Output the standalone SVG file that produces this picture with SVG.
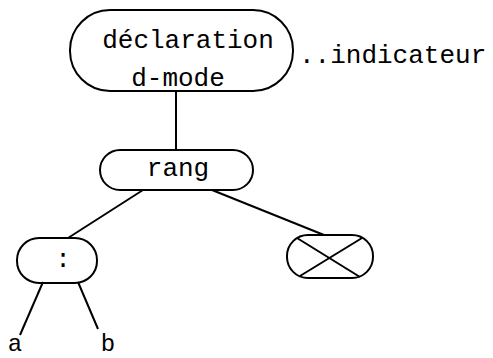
<svg xmlns="http://www.w3.org/2000/svg" width="493" height="358" viewBox="0 0 493 358">
<style>
.n{fill:none;stroke:#000;stroke-width:2}
.c{stroke:#000;stroke-width:2;fill:none}
text{font-family:"Liberation Mono","DejaVu Sans Mono",monospace;font-size:26px;fill:#000}
.s{font-size:24px}
</style>
<rect width="493" height="358" fill="#fff"/>
<g id="connectors">
<line class="c" x1="176" y1="91" x2="176" y2="150"/>
<line class="c" x1="143" y1="190" x2="68" y2="238"/>
<line class="c" x1="212" y1="190" x2="324" y2="235"/>
<line class="c" x1="43" y1="282" x2="20" y2="335"/>
<line class="c" x1="78" y1="282" x2="98" y2="329"/>
</g>
<g id="declaration">
<rect class="n" x="70" y="10" width="223" height="81" rx="40" ry="40"/>
<text x="188" y="48" text-anchor="middle">déclaration</text>
<text x="178" y="86" text-anchor="middle">d-mode</text>
</g>
<g id="indicateur">
<text x="299" y="63">..indicateur</text>
</g>
<g id="rang">
<rect class="n" x="100" y="150" width="153" height="40" rx="20" ry="20"/>
<text x="178" y="176" text-anchor="middle">rang</text>
</g>
<g id="colon">
<rect class="n" x="17" y="238" width="80" height="45" rx="22" ry="22"/>
<text x="63" y="267" text-anchor="middle">:</text>
</g>
<g id="empty">
<rect class="n" x="287" y="235" width="86" height="43" rx="21" ry="21"/>
<line class="c" x1="297" y1="238" x2="360" y2="277"/>
<line class="c" x1="362" y1="238" x2="300" y2="276"/>
</g>
<g id="a"><text class="s" x="15" y="351" text-anchor="middle">a</text></g>
<g id="b"><text class="s" x="108" y="351" text-anchor="middle">b</text></g>
</svg>
